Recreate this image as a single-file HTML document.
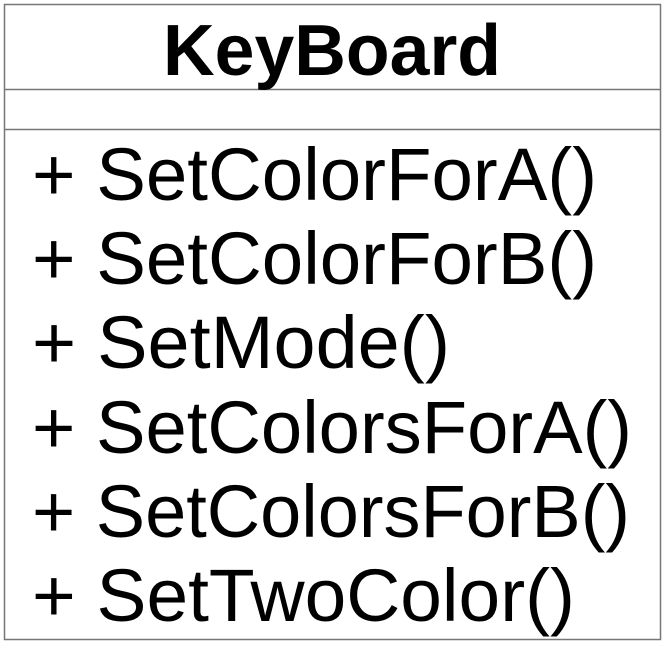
<!DOCTYPE html>
<html><head><style>html,body{margin:0;padding:0;background:#fff;}</style></head>
<body>
<svg width="665" height="645" xmlns="http://www.w3.org/2000/svg" style="display:block">
<rect x="4.5" y="4.5" width="656" height="635" fill="#fff" stroke="#777" stroke-width="1.5"/>
<line x1="4" y1="89.5" x2="661" y2="89.5" stroke="#777" stroke-width="1.5"/>
<line x1="4" y1="129.5" x2="661" y2="129.5" stroke="#777" stroke-width="1.5"/>
<g font-family="'Liberation Sans', 'DejaVu Sans', sans-serif" fill="#000">
<text x="163" y="75" font-size="72" font-weight="bold" textLength="338" lengthAdjust="spacingAndGlyphs">KeyBoard</text>
<g font-size="74" lengthAdjust="spacingAndGlyphs">
<text x="32" y="200" textLength="565" lengthAdjust="spacingAndGlyphs">+ SetColorForA()</text>
<text x="32" y="284" textLength="565" lengthAdjust="spacingAndGlyphs">+ SetColorForB()</text>
<text x="32" y="368" textLength="418" lengthAdjust="spacingAndGlyphs">+ SetMode()</text>
<text x="32" y="453" textLength="600" lengthAdjust="spacingAndGlyphs">+ SetColorsForA()</text>
<text x="32" y="537" textLength="598" lengthAdjust="spacingAndGlyphs">+ SetColorsForB()</text>
<text x="32" y="621" textLength="543" lengthAdjust="spacingAndGlyphs">+ SetTwoColor()</text>
</g>
</g>
</svg>
</body></html>
